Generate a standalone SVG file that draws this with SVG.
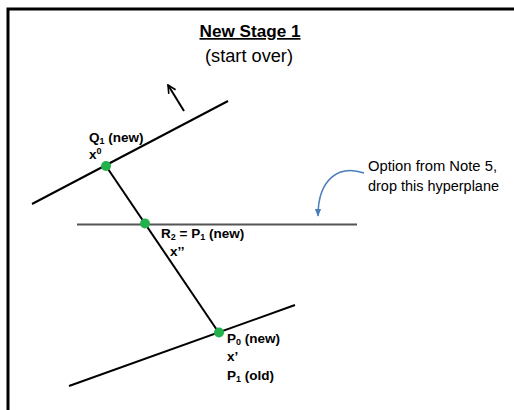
<svg xmlns="http://www.w3.org/2000/svg" width="514" height="410" viewBox="0 0 514 410">
<style>
text{font-family:"Liberation Sans",Arial,sans-serif;fill:#000}
.lbl{font-size:13.5px;font-weight:bold}
.sub{font-size:9px}
.note{font-size:14px}
.ln{stroke:#000;stroke-width:2;fill:none}
.dot{fill:#22b14c}
</style>
<defs>
<marker id="open" viewBox="0 0 10 10" refX="9" refY="5" markerWidth="10" markerHeight="10" markerUnits="userSpaceOnUse" orient="auto"><path d="M1,1 L9,5 L1,9" fill="none" stroke="#000" stroke-width="1.6"/></marker>
<marker id="blue" viewBox="0 0 10 10" refX="9" refY="5" markerWidth="8" markerHeight="8" markerUnits="userSpaceOnUse" orient="auto"><path d="M0,1 L10,5 L0,9 Z" fill="#4a7ebb"/></marker>
</defs>
<rect width="514" height="410" fill="#fff"/>
<g id="frame">
<path d="M8,410 V9 H514" fill="none" stroke="#000" stroke-width="3"/>
</g>
<g id="title">
<text x="250" y="37" text-anchor="middle" font-size="17" font-weight="bold" text-decoration="underline" textLength="101" lengthAdjust="spacingAndGlyphs">New Stage 1</text>
<text x="249" y="62" text-anchor="middle" font-size="17.5" textLength="88" lengthAdjust="spacingAndGlyphs">(start over)</text>
</g>
<g id="connectors">
<line class="ln" x1="32" y1="204" x2="228" y2="101"/>
<line x1="77" y1="224.5" x2="357" y2="224.5" stroke="#555" stroke-width="2"/>
<line class="ln" x1="69" y1="386" x2="295" y2="305"/>
<line class="ln" x1="106" y1="166" x2="219" y2="333"/>
<line class="ln" x1="184" y1="111" x2="168" y2="85" marker-end="url(#open)"/>
<path d="M364,173 C338,164 318,180 318,216" fill="none" stroke="#4a7ebb" stroke-width="1.5" marker-end="url(#blue)"/>
</g>
<g id="Q1">
<circle class="dot" cx="106" cy="166" r="5"/>
<text class="lbl" x="89" y="142">Q<tspan class="sub" dy="2">1</tspan><tspan dy="-2"> (new)</tspan></text>
<text class="lbl" x="89" y="159">x<tspan class="sub" dy="-5">0</tspan></text>
</g>
<g id="R2">
<circle class="dot" cx="145" cy="223.5" r="5"/>
<text class="lbl" x="161" y="238">R<tspan class="sub" dy="2">2</tspan><tspan dy="-2"> = P</tspan><tspan class="sub" dy="2">1</tspan><tspan dy="-2"> (new)</tspan></text>
<text class="lbl" x="170" y="256">x’’</text>
</g>
<g id="P0">
<circle class="dot" cx="219" cy="332.5" r="5"/>
<text class="lbl" x="227" y="343">P<tspan class="sub" dy="2">0</tspan><tspan dy="-2"> (new)</tspan></text>
<text class="lbl" x="227" y="361">x’</text>
<text class="lbl" x="227" y="380">P<tspan class="sub" dy="2">1</tspan><tspan dy="-2"> (old)</tspan></text>
</g>
<g id="note">
<text class="note" x="368" y="171" textLength="129" lengthAdjust="spacingAndGlyphs">Option from Note 5,</text>
<text class="note" x="368" y="191" textLength="131" lengthAdjust="spacingAndGlyphs">drop this hyperplane</text>
</g>
</svg>
